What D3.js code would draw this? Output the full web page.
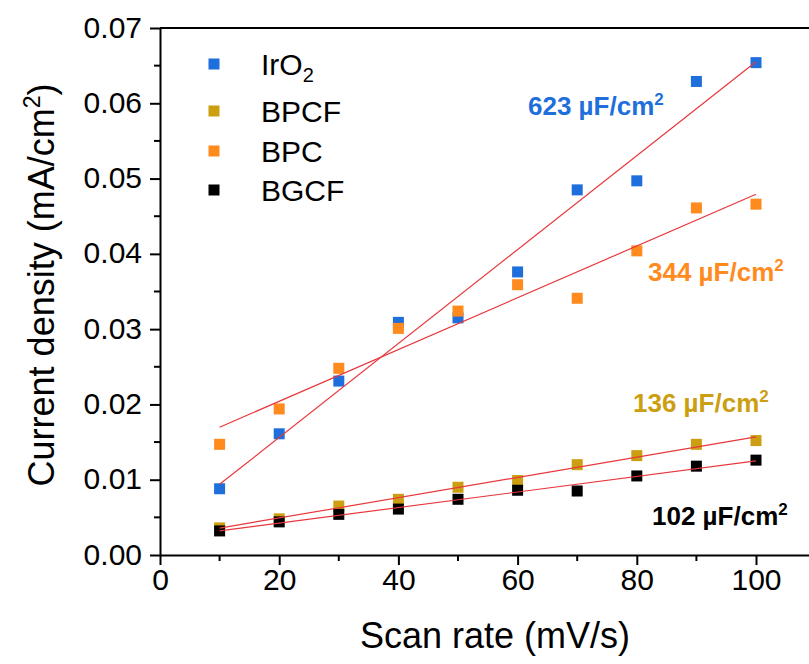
<!DOCTYPE html>
<html>
<head>
<meta charset="utf-8">
<script src="https://cdn.jsdelivr.net/npm/d3@7"></script>
<style>
  html, body { margin: 0; padding: 0; background: #fff; }
  svg { display: block; font-family: "Liberation Sans", Arial, sans-serif; }
</style>
</head>
<body>
<svg id="chart" width="809" height="664"></svg>
<script>
// ---------------- data ----------------
const scanRates = [10, 20, 30, 40, 50, 60, 70, 80, 90, 100];
const seriesNames = ["IrO2", "BPCF", "BPC", "BGCF"];
const iro2 = [0.0088, 0.0161, 0.0231, 0.0309, 0.0315, 0.0376, 0.0485, 0.0497, 0.0629, 0.0654];
const bpcf = [0.0036, 0.0048, 0.0065, 0.0074, 0.0090, 0.0099, 0.0120, 0.0132, 0.0147, 0.0152];
const bpc  = [0.0147, 0.0194, 0.0248, 0.0301, 0.0324, 0.0359, 0.0341, 0.0404, 0.0461, 0.0466];
const bgcf = [0.0032, 0.0044, 0.0054, 0.0061, 0.0074, 0.0086, 0.0085, 0.0105, 0.0118, 0.0126];
const capacitance = ["623", "136", "344", "102"]; // µF/cm², same order as seriesNames
const xTicks = [0, 20, 40, 60, 80, 100];
const yTicks = [0, 0.01, 0.02, 0.03, 0.04, 0.05, 0.06, 0.07];
const xLabel = "Scan rate (mV/s)";
const yLabel = "Current density (mA/cm";

// ---------------- styling / layout ----------------
const colors = ["#1e6fdc", "#cc9f12", "#ff8a1e", "#000000"];
const fitColor = "#e8373c";
const margin = { left: 160, top: 28, bottom: 555, right: 815.6 };
const annotPos = [[528, 115], [633, 412], [648, 281], [652, 525]];

const svg = d3.select("#chart");
const x = d3.scaleLinear().domain([0, 110]).range([margin.left, margin.right]);
const y = d3.scaleLinear().domain([0, 0.07]).range([margin.bottom, margin.top]);

const allSeries = [iro2, bpcf, bpc, bgcf].map((vals, i) => ({
  name: seriesNames[i],
  color: colors[i],
  points: scanRates.map((r, j) => ({ x: r, y: vals[j] }))
}));

// ---------------- axes ----------------
svg.append("line")
  .attr("x1", margin.left).attr("x2", margin.right)
  .attr("y1", margin.top).attr("y2", margin.top)
  .attr("stroke", "#000").attr("stroke-width", 2);

const xMinor = d3.range(10, 101, 20);
const yMinor = d3.range(0.005, 0.07, 0.01);

const xAxis = svg.append("g")
  .attr("transform", `translate(0,${margin.bottom})`)
  .call(d3.axisBottom(x).tickValues(xTicks).tickFormat(d3.format("d")).tickSize(10).tickSizeOuter(0).tickPadding(4));
xAxis.select(".domain").attr("stroke-width", 2);
xAxis.selectAll(".tick line").attr("stroke-width", 2);
xAxis.selectAll(".tick text").attr("font-size", 30).attr("font-family", "Liberation Sans, Arial, sans-serif").attr("fill", "#000");
xAxis.selectAll(".minor").data(xMinor).enter().append("line")
  .attr("x1", d => x(d)).attr("x2", d => x(d))
  .attr("y1", 0).attr("y2", 6)
  .attr("stroke", "#000").attr("stroke-width", 2);

const yAxis = svg.append("g")
  .attr("transform", `translate(${margin.left},0)`)
  .call(d3.axisLeft(y).tickValues(yTicks).tickFormat(d3.format(".2f")).tickSize(10).tickSizeOuter(0).tickPadding(8));
yAxis.select(".domain").attr("stroke-width", 2);
yAxis.selectAll(".tick line").attr("stroke-width", 2);
yAxis.selectAll(".tick text").attr("font-size", 30).attr("font-family", "Liberation Sans, Arial, sans-serif").attr("fill", "#000").attr("dy", "0.3em");
yAxis.selectAll(".minor").data(yMinor).enter().append("line")
  .attr("x1", 0).attr("x2", -6)
  .attr("y1", d => y(d)).attr("y2", d => y(d))
  .attr("stroke", "#000").attr("stroke-width", 2);

// axis titles
svg.append("text")
  .attr("x", 495).attr("y", 648)
  .attr("text-anchor", "middle")
  .attr("font-size", 36)
  .text(xLabel);

const yt = svg.append("text")
  .attr("transform", "translate(54,285) rotate(-90)")
  .attr("text-anchor", "middle")
  .attr("font-size", 36);
yt.append("tspan").text(yLabel);
yt.append("tspan").attr("font-size", 23).attr("dy", -14).text("2");
yt.append("tspan").attr("dy", 14).text(")");

// ---------------- marks ----------------
const sq = 11;
allSeries.forEach(s => {
  svg.append("g").selectAll("rect").data(s.points).enter().append("rect")
    .attr("x", d => x(d.x) - sq / 2)
    .attr("y", d => y(d.y) - sq / 2)
    .attr("width", sq).attr("height", sq)
    .attr("fill", s.color);
});

// linear fits (least squares on the data)
function fit(pts) {
  const mx = d3.mean(pts, d => d.x), my = d3.mean(pts, d => d.y);
  const sxy = d3.sum(pts, d => (d.x - mx) * (d.y - my));
  const sxx = d3.sum(pts, d => (d.x - mx) * (d.x - mx));
  const b = sxy / sxx, a = my - b * mx;
  return [d3.min(pts, d => d.x), d3.max(pts, d => d.x)].map(v => ({ x: v, y: a + b * v }));
}
const line = d3.line().x(d => x(d.x)).y(d => y(d.y));
allSeries.forEach(s => {
  svg.append("path")
    .attr("d", line(fit(s.points)))
    .attr("fill", "none")
    .attr("stroke", fitColor)
    .attr("stroke-width", 1.2);
});

// ---------------- annotations ----------------
allSeries.forEach((s, i) => {
  const t = svg.append("text")
    .attr("x", annotPos[i][0]).attr("y", annotPos[i][1])
    .attr("font-size", 26).attr("font-weight", "bold")
    .attr("fill", s.color);
  t.append("tspan").text(capacitance[i] + " µF/cm");
  t.append("tspan").attr("font-size", 17).attr("dy", -10).text("2");
});

// ---------------- legend ----------------
const legendY = [64, 111, 151, 190];
const lg = svg.append("g");
allSeries.forEach((s, i) => {
  lg.append("rect")
    .attr("x", 214 - sq / 2).attr("y", legendY[i] - sq / 2)
    .attr("width", sq).attr("height", sq)
    .attr("fill", s.color);
  const t = lg.append("text")
    .attr("x", 261).attr("y", legendY[i] + 11)
    .attr("font-size", 30);
  if (s.name === "IrO2") {
    t.append("tspan").text("IrO");
    t.append("tspan").attr("font-size", 20).attr("dy", 7).text("2");
  } else {
    t.text(s.name);
  }
});
</script>
</body>
</html>
